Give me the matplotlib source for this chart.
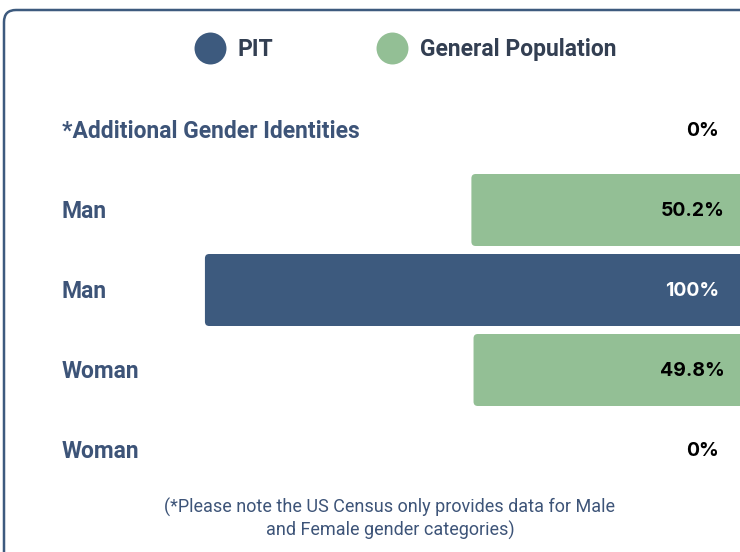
import matplotlib
matplotlib.use("Agg")
import matplotlib.pyplot as plt
from matplotlib.patches import FancyBboxPatch
from matplotlib.lines import Line2D
from matplotlib.transforms import offset_copy

# ---- data ----
labels = ["*Additional Gender Identities", "Man", "Man", "Woman", "Woman"]
series = ["PIT", "General Population", "PIT", "General Population", "PIT"]
values = [0, 50.2, 100, 49.8, 0]
value_text = ["0%", "50.2%", "100%", "49.8%", "0%"]
note = "(*Please note the US Census only provides data for Male\nand Female gender categories)"

# ---- style ----
blue = "#3d5a7e"
green = "#93bf95"
label_col = "#3d5478"
colors = {"PIT": blue, "General Population": green}
txt_col = {"PIT": "white", "General Population": "black"}
txt_x = {"PIT": 3.9, "General Population": 2.8}   # right edge of value text (data units)

plt.rcParams["font.family"] = ["Roboto", "DejaVu Sans"]

fig = plt.figure(figsize=(7.4, 5.52), dpi=100)
ax = fig.add_axes([0, 0, 1, 1])
ax.set_xlim(138.3, 0)
ax.set_ylim(5.275, -1.625)
ax.axis("off")

ypos = list(range(len(labels)))
bars = ax.barh(ypos, values, height=0.9, color=[colors[s] for s in series])

# swap plain rectangles for rounded ones (right end runs off the canvas)
for b in bars:
    x0, y0, w, h = b.get_x(), b.get_y(), b.get_width(), b.get_height()
    b.set_visible(False)
    if w <= 0:
        continue
    rb = FancyBboxPatch((x0 - 2, y0), w + 2, h,
                        boxstyle="round,pad=0,rounding_size=0.8",
                        mutation_aspect=0.067, clip_on=False,
                        fc=b.get_facecolor(), ec="none")
    ax.add_patch(rb)

# nudge text down a couple of pixels
lab_tr = offset_copy(ax.get_yaxis_transform(), fig=fig, x=2, y=-2, units="dots")
val_tr = offset_copy(ax.transData, fig=fig, y=-1.5, units="dots")

for y, lab, s, vt in zip(ypos, labels, series, value_text):
    ax.text(0.081, y, lab, transform=lab_tr,
            ha="left", va="center", fontsize=16.5, fontweight="bold", color=label_col)
    c = txt_col[s] if vt != "0%" else "black"
    ax.text(txt_x[s], y, vt, ha="right", va="center", fontsize=14, transform=val_tr,
            fontweight="bold", color=c, family=["Inter", "DejaVu Sans"])

# legend
handles = [Line2D([], [], marker="o", ls="none", ms=23, color=colors[k], mec="none")
           for k in ["PIT", "General Population"]]
leg = fig.legend(handles, ["PIT", "General Population"], ncol=2, loc="center",
                 bbox_to_anchor=(0.547, 1 - 50 / 552), frameon=False,
                 handletextpad=0.5, columnspacing=4.5, handlelength=1.4,
                 prop={"weight": "bold", "size": 16.5})
for t in leg.get_texts():
    t.set_color("#333f52")

# footnote
fig.text(0.527, 0.06, note, ha="center", va="center", fontsize=13,
         color=label_col, linespacing=1.3)

# outer rounded frame
frame = FancyBboxPatch((0.04, -0.3), 7.7, 5.42 + 0.3,
                       boxstyle="round,pad=0,rounding_size=0.12",
                       transform=fig.dpi_scale_trans, fc="none",
                       ec=blue, lw=1.8)
fig.patches.append(frame)

fig.savefig("out.png", dpi=100)
